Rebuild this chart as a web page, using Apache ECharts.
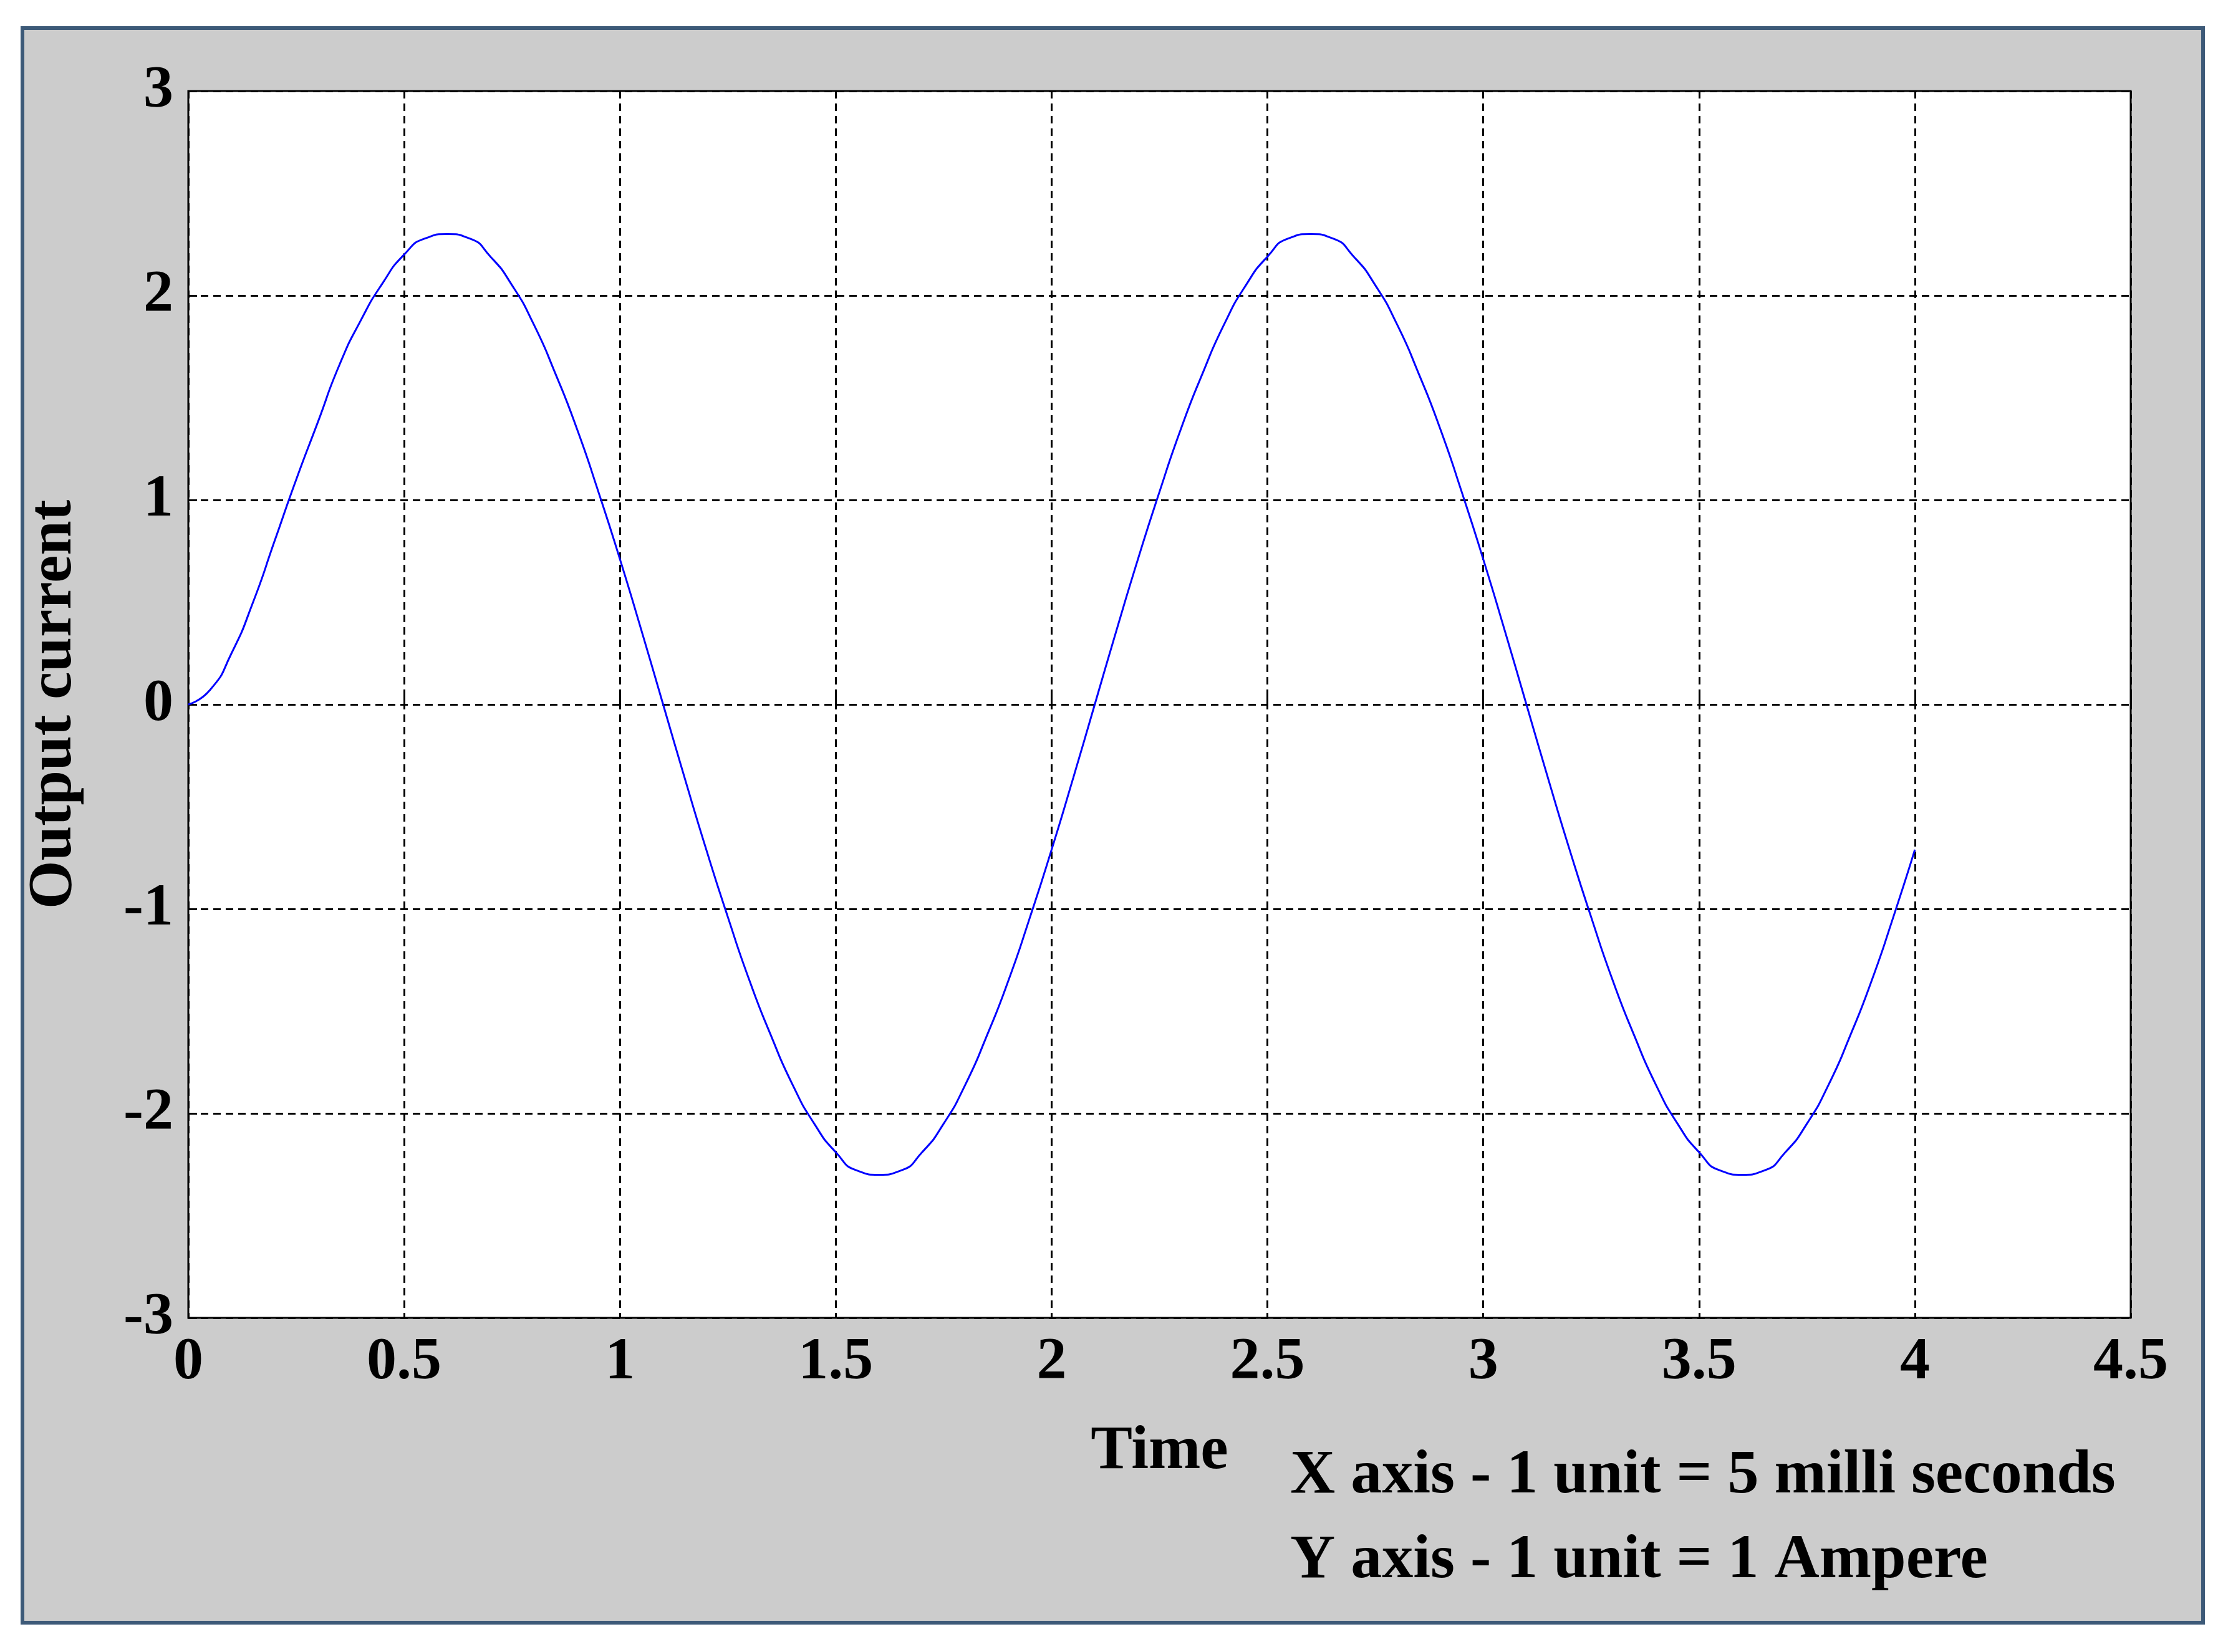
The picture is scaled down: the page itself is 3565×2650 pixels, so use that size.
<!DOCTYPE html>
<html><head><meta charset="utf-8">
<script src="https://cdn.jsdelivr.net/npm/echarts@6/dist/echarts.min.js"></script>
<style>html,body{margin:0;padding:0;background:#fff}#c{width:3565px;height:2650px}</style>
</head><body><div id="c"></div>
<script>
const timeValues = [0,0.05,0.1,0.15,0.2,0.25,0.3,0.35,0.4,0.45,0.5,0.55,0.6,0.65,0.7,0.75,0.8,0.85,0.9,0.95,1.0,1.05,1.1,1.15,1.2,1.25,1.3,1.35,1.4,1.45,1.5,1.55,1.6,1.65,1.7,1.75,1.8,1.85,1.9,1.95,2.0,2.05,2.1,2.15,2.2,2.25,2.3,2.35,2.4,2.45,2.5,2.55,2.6,2.65,2.7,2.75,2.8,2.85,2.9,2.95,3.0,3.05,3.1,3.15,3.2,3.25,3.3,3.35,3.4,3.45,3.5,3.55,3.6,3.65,3.7,3.75,3.8,3.85,3.9,3.95,4.0];
const currentValues = [0,0.07,0.25,0.5,0.8,1.1,1.38,1.66,1.88,2.06,2.2,2.28,2.3,2.28,2.19,2.05,1.86,1.62,1.35,1.04,0.71,0.36,0,-0.36,-0.71,-1.04,-1.35,-1.62,-1.86,-2.05,-2.19,-2.28,-2.3,-2.28,-2.19,-2.05,-1.86,-1.62,-1.35,-1.04,-0.71,-0.36,0,0.36,0.71,1.04,1.35,1.62,1.86,2.05,2.19,2.28,2.3,2.28,2.19,2.05,1.86,1.62,1.35,1.04,0.71,0.36,0,-0.36,-0.71,-1.04,-1.35,-1.62,-1.86,-2.05,-2.19,-2.28,-2.3,-2.28,-2.19,-2.05,-1.86,-1.62,-1.35,-1.04,-0.71];
const xAxisName = 'Time';
const yAxisName = 'Output current';
const noteLines = ['X axis - 1 unit = 5 milli seconds', 'Y axis - 1 unit = 1 Ampere'];

const font = 'Liberation Serif';
const chart = echarts.init(document.getElementById('c'));
const pts = timeValues.map((t, i) => [t, currentValues[i]]);
chart.setOption({
  backgroundColor: '#fff',
  graphic: [
    {type:'rect', z:-10, shape:{x:36,y:45,width:3497,height:2558}, style:{fill:'#cccccc', stroke:'#3d5a78', lineWidth:6}},
    {type:'text', left:2069, top:2318, style:{text:noteLines[0], font:'bold 100px "Liberation Serif"', fill:'#000'}},
    {type:'text', left:2069, top:2454, style:{text:noteLines[1], font:'bold 100px "Liberation Serif"', fill:'#000'}}
  ],
  grid: {left:302, right:148, top:146, bottom:536, show:true, backgroundColor:'#fff', borderColor:'#000', borderWidth:3},
  xAxis: {
    type:'value', min:0, max:4.5, interval:0.5,
    name:xAxisName, nameLocation:'middle', nameGap:165,
    nameTextStyle:{fontFamily:font, fontWeight:'bold', fontSize:100, color:'#000'},
    axisLine:{show:false}, axisTick:{show:true, inside:true, length:14, lineStyle:{color:'#000', width:3}},
    axisLabel:{fontFamily:font, fontWeight:'bold', fontSize:96, color:'#000', margin:24},
    splitLine:{show:true, lineStyle:{color:'#000', type:[12,8], width:3}}
  },
  yAxis: {
    type:'value', min:-3, max:3, interval:1,
    name:yAxisName, nameLocation:'middle', nameGap:165,
    nameTextStyle:{fontFamily:font, fontWeight:'bold', fontSize:100, color:'#000'},
    axisLine:{show:false}, axisTick:{show:true, inside:true, length:14, lineStyle:{color:'#000', width:3}},
    axisLabel:{fontFamily:font, fontWeight:'bold', fontSize:96, color:'#000', margin:24},
    splitLine:{show:true, lineStyle:{color:'#000', type:[12,8], width:3}}
  },
  series: [{type:'line', data:pts, smooth:0.6, showSymbol:false, lineStyle:{color:'#0000ff', width:3}, animation:false}]
});
</script></body></html>
